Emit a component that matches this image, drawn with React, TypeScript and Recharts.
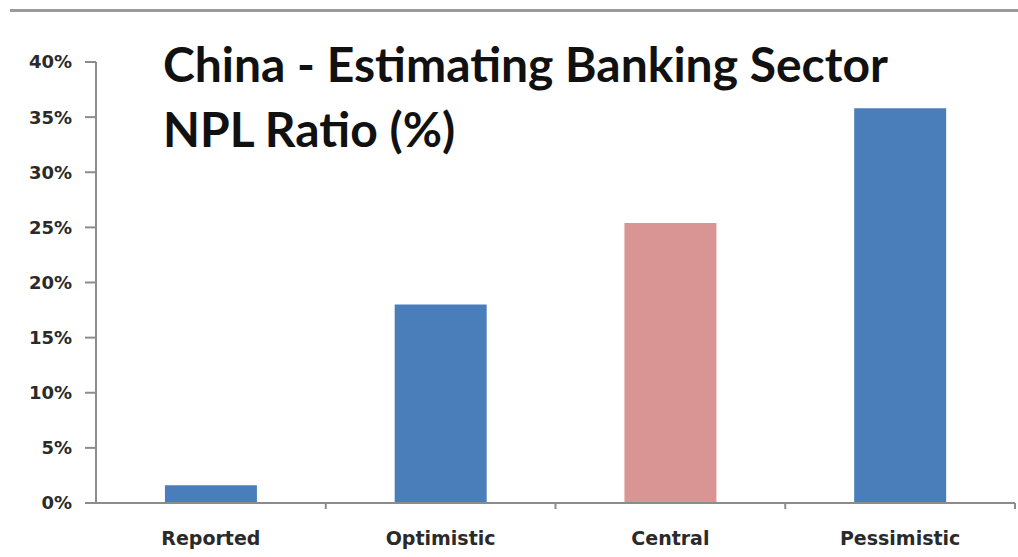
import React from "react";
import { BarChart, Bar, XAxis, YAxis, Cell } from "recharts";

const categories = ["Reported", "Optimistic", "Central", "Pessimistic"];
const nplRatio = [1.6, 18, 25.4, 35.8];
const barColors = ["#4A7EBB", "#4A7EBB", "#D99594", "#4A7EBB"];
const yTicks = [0, 5, 10, 15, 20, 25, 30, 35, 40];
const titleLines = ["China - Estimating Banking Sector", "NPL Ratio (%)"];

const data = categories.map((name, i) => ({ name, value: nplRatio[i], color: barColors[i] }));

const AXIS = "#8c8c8c";
const TEXT = "#2a2a2a";

function CategoryTick({ x, y, payload }: { x?: number; y?: number; payload?: { value: string; offset?: number } }) {
  const half = payload?.offset ?? 0;
  return (
    <g>
      <line x1={x! + half} x2={x! + half} y1={y! - 8} y2={y! - 2} stroke={AXIS} strokeWidth={2} />
      <text
        x={x}
        y={y! + 34}
        textAnchor="middle"
        fill={TEXT}
        fontFamily="DejaVu Sans"
        fontWeight="bold"
        fontSize={19}
      >
        {payload?.value}
      </text>
    </g>
  );
}

export default function App() {
  return (
    <div style={{ position: "absolute", left: 0, top: 0, width: 1018, height: 557, background: "#fff" }}>
      <div style={{ position: "absolute", left: 10, top: 9, width: 1008, height: 3, background: "#9a9a9a" }} />
      <BarChart
        width={1018}
        height={557}
        data={data}
        margin={{ top: 62, right: 3, bottom: 0, left: 0 }}
        barCategoryGap="30%"
      >
        <XAxis
          dataKey="name"
          axisLine={{ stroke: AXIS, strokeWidth: 2 }}
          tickLine={false}
          tick={<CategoryTick />}
          interval={0}
          height={54}
        />
        <YAxis
          domain={[0, 40]}
          ticks={yTicks}
          width={96}
          tickFormatter={(v: number) => `${v}%`}
          axisLine={{ stroke: AXIS, strokeWidth: 2 }}
          tickLine={{ stroke: AXIS, strokeWidth: 2 }}
          tickSize={11}
          tickMargin={13}
          tick={{ fill: TEXT, fontFamily: "DejaVu Sans", fontWeight: "bold", fontSize: 18 }}
        />
        <Bar dataKey="value" isAnimationActive={false}>
          {data.map((d, i) => (
            <Cell key={`cell-${i}`} fill={d.color} />
          ))}
        </Bar>
      </BarChart>
      <div
        style={{
          position: "absolute",
          left: 163,
          top: 31,
          fontFamily: "Lato",
          fontWeight: 700,
          fontSize: 48,
          lineHeight: "65px",
          color: "#111",
          whiteSpace: "nowrap",
        }}
      >
        {titleLines.map((t) => (
          <div key={t}>{t}</div>
        ))}
      </div>
    </div>
  );
}
